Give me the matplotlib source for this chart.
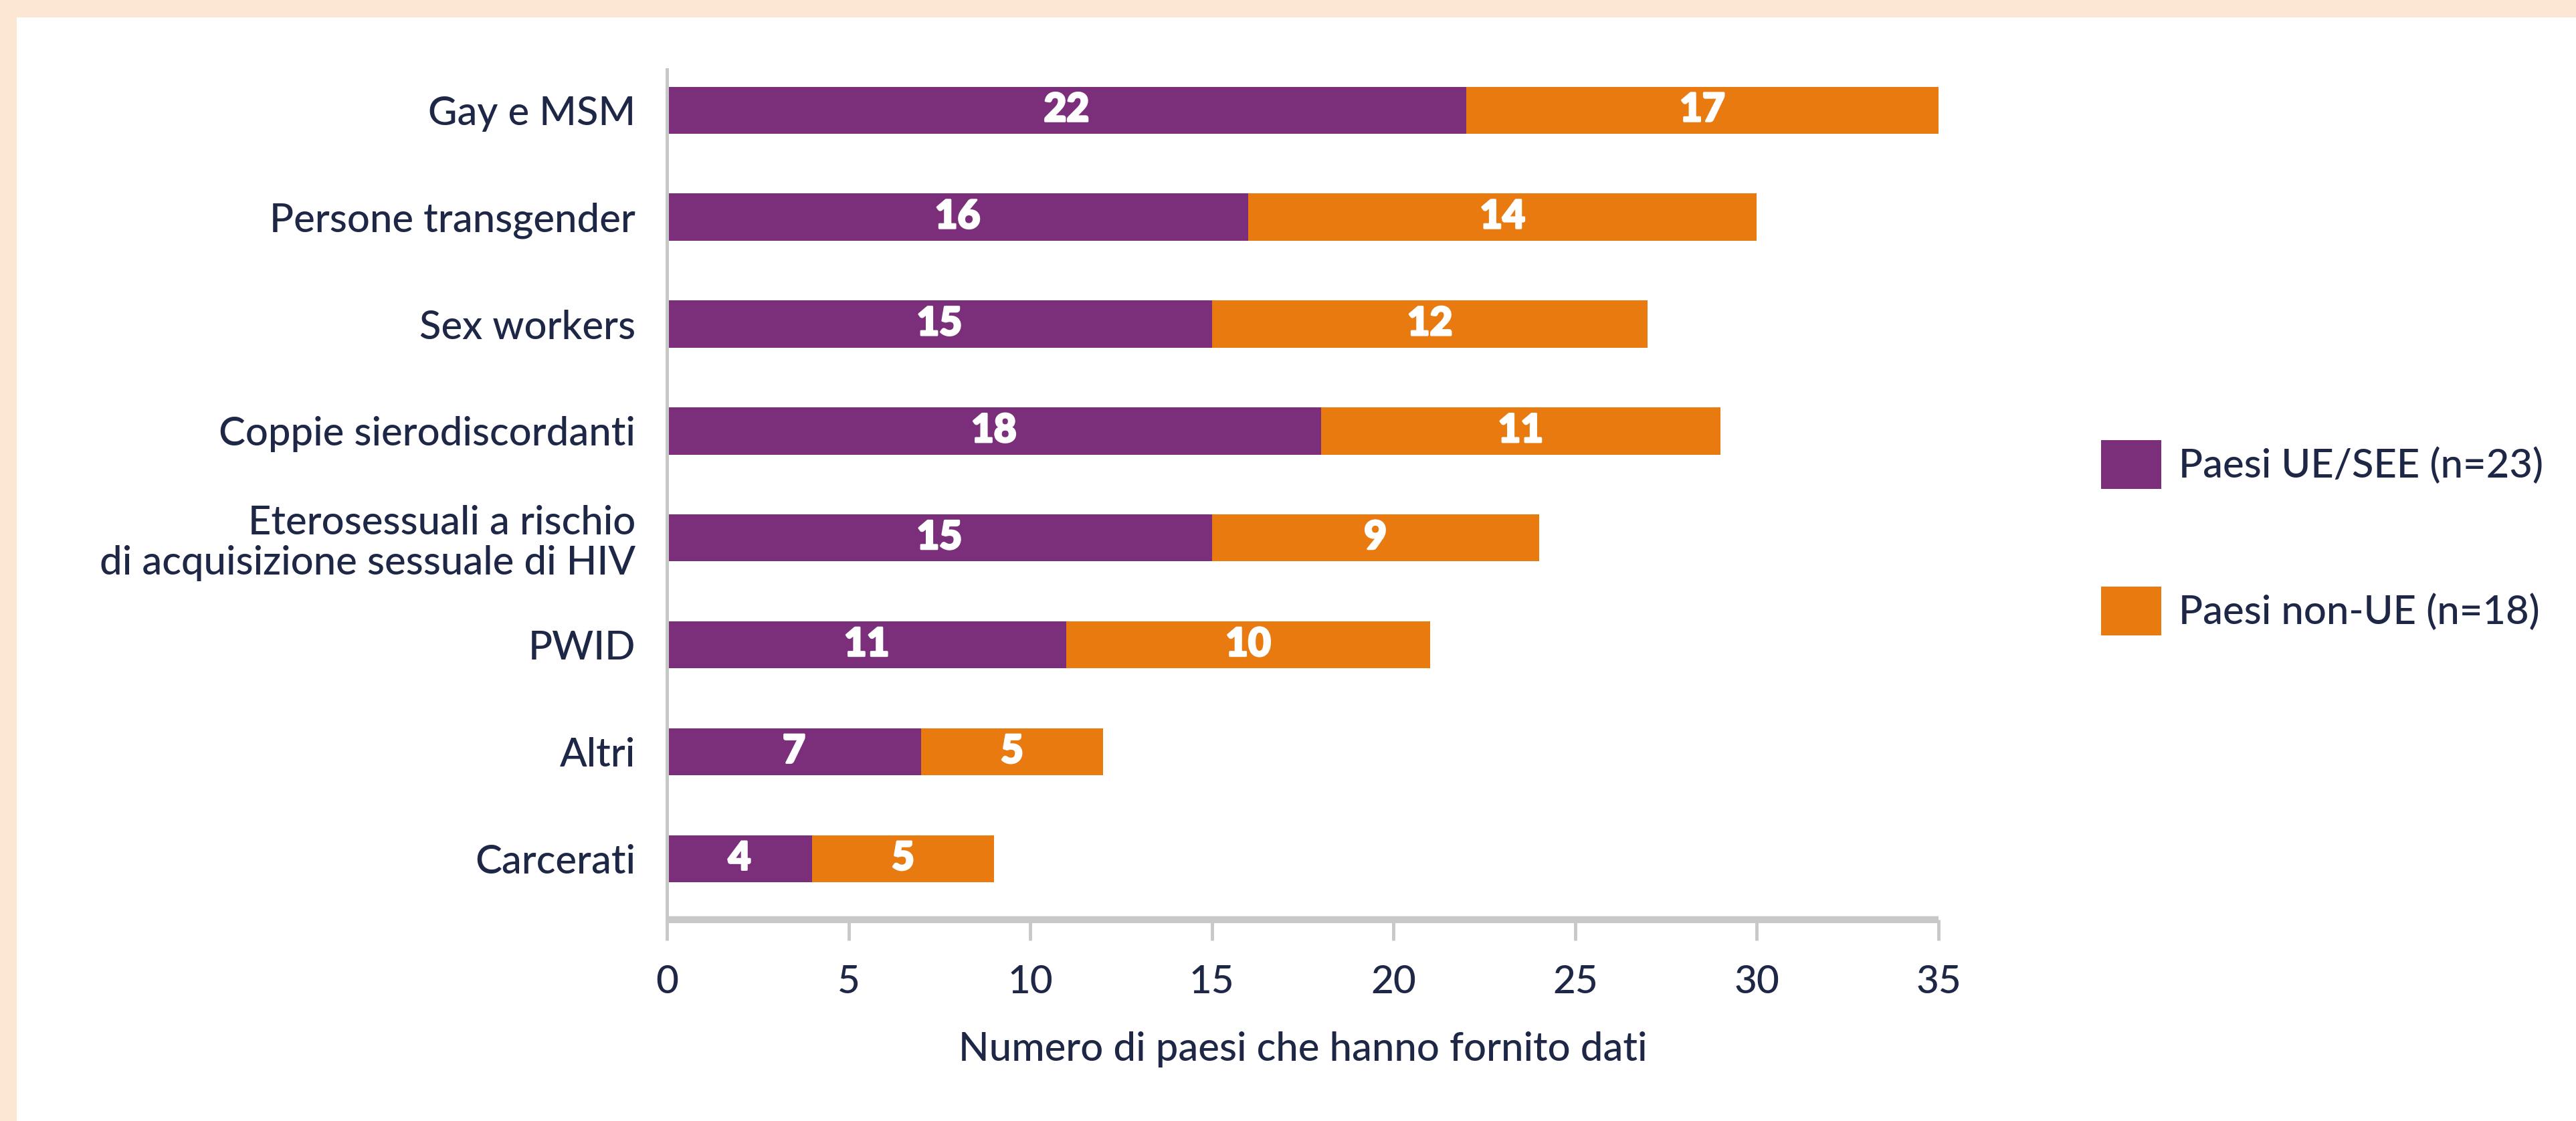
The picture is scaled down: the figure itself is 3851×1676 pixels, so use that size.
import matplotlib
matplotlib.use("Agg")
import matplotlib.pyplot as plt
from matplotlib.patches import Rectangle
import matplotlib.patheffects as pe
import numpy as np

categories = ["Gay e MSM", "Persone transgender", "Sex workers", "Coppie sierodiscordanti",
              "Eterosessuali a rischio\ndi acquisizione sessuale di HIV", "PWID", "Altri", "Carcerati"]
eu_values = [22, 16, 15, 18, 15, 11, 7, 4]
non_eu_values = [17, 14, 12, 11, 9, 10, 5, 5]
series_names = ["Paesi UE/SEE (n=23)", "Paesi non-UE (n=18)"]
x_ticks = [0, 5, 10, 15, 20, 25, 30, 35]
x_label = "Numero di paesi che hanno fornito dati"

PURPLE = "#7B2F7B"
ORANGE = "#E97A10"
NAVY = "#1E2746"
GRAY = "#C8C8C8"
PEACH = "#FCE7D5"
FONT = "Lato"
FS = 43

W, H = 3851, 1676
fig = plt.figure(figsize=(W / 100, H / 100), dpi=100)
fig.patch.set_facecolor("white")

# peach frame (top and left)
fig.patches.append(Rectangle((0, 1 - 26 / H), 1, 26 / H, transform=fig.transFigure,
                             facecolor=PEACH, edgecolor="none", zorder=-10))
fig.patches.append(Rectangle((0, 0), 25 / W, 1, transform=fig.transFigure,
                             facecolor=PEACH, edgecolor="none", zorder=-10))

left = 997 / W
right = 2898 / W
top = 1 - 104 / H
bottom = 1 - 1375 / H
ax = fig.add_axes([left, bottom, right - left, top - bottom])
ax.set_facecolor("none")

y = np.arange(len(categories))
xmax = 35
bar_h = 0.44
b1 = ax.barh(y, eu_values, height=bar_h, color=PURPLE, label=series_names[0], zorder=2)
b2 = ax.barh(y, non_eu_values, left=eu_values, height=bar_h, color=ORANGE, label=series_names[1], zorder=2)

ax.set_xlim(0, xmax)
ax.set_ylim(7.57, -0.38)

heavy = [pe.withStroke(linewidth=2.2, foreground="white")]
# value labels, centered on visible part of each segment
for i in range(len(categories)):
    a = eu_values[i]
    bsum = eu_values[i] + non_eu_values[i]
    ax.text(a / 2, y[i], str(a), ha="center", va="center", color="white",
            fontsize=42, fontweight="black", family=FONT, zorder=3, path_effects=heavy)
    ax.text((a + min(bsum, xmax)) / 2, y[i], str(non_eu_values[i]), ha="center", va="center",
            color="white", fontsize=42, fontweight="black", family=FONT, zorder=3,
            path_effects=heavy)

ax.set_yticks(y)
ax.set_yticklabels(categories, fontsize=FS, family=FONT, fontweight="medium",
                   color=NAVY, linespacing=1.12)
ax.tick_params(axis="y", length=0, pad=34)
ax.set_xticks(x_ticks)
ax.set_xticklabels([str(t) for t in x_ticks], fontsize=42, family=FONT,
                   fontweight="medium", color=NAVY)
ax.tick_params(axis="x", length=22, width=3.5, color=GRAY, pad=26)

for s in ["top", "right"]:
    ax.spines[s].set_visible(False)
ax.spines["left"].set_color(GRAY)
ax.spines["left"].set_linewidth(3.6)
ax.spines["bottom"].set_color(GRAY)
ax.spines["bottom"].set_linewidth(7.5)
ax.spines["bottom"].set_capstyle("butt")

ax.set_xlabel(x_label, fontsize=FS, family=FONT, fontweight="medium", color=NAVY, labelpad=34)

leg = fig.legend(handles=[b1, b2], labels=series_names, loc="upper left",
                 bbox_to_anchor=(3141 / W, 1 - 658 / H), frameon=False,
                 prop={"family": FONT, "size": FS, "weight": "medium"}, labelcolor=NAVY,
                 handlelength=1.5, handleheight=1.5, handletextpad=0.44,
                 labelspacing=2.45, borderpad=0, borderaxespad=0)

fig.savefig("out.png", dpi=100, facecolor="white")
